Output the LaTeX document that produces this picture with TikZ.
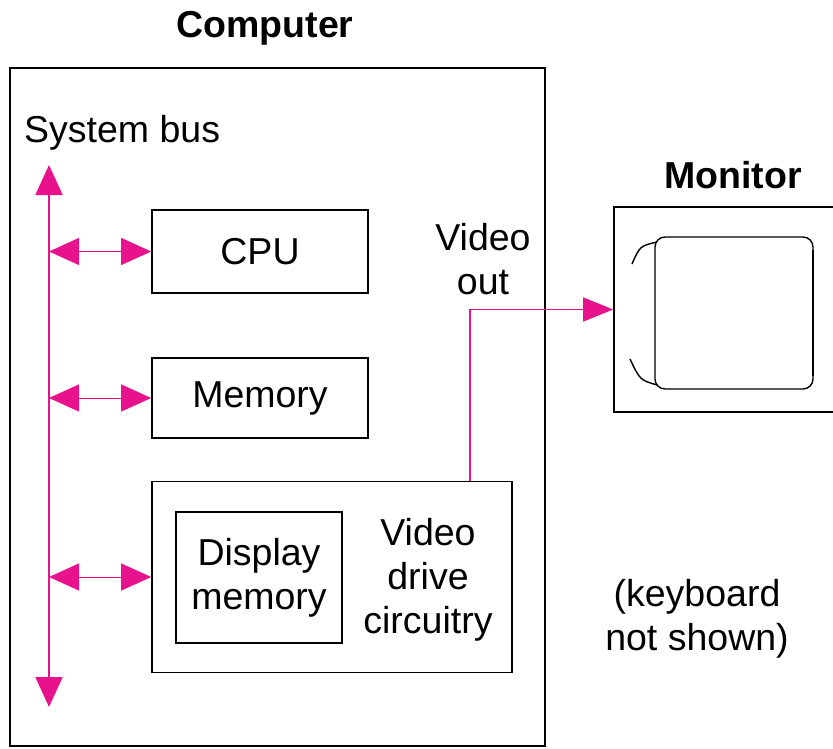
\documentclass[tikz,border=0pt]{standalone}
\usepackage{fontspec}
\setmainfont{Liberation Sans}
\usetikzlibrary{arrows.meta}
\definecolor{buspink}{RGB}{232,18,140}
\begin{document}
\begin{tikzpicture}[x=1pt,y=-1pt]
	\tikzstyle{blk}=[draw,line width=1.6pt,rectangle,inner sep=0pt,align=center];
	\tikzstyle{lbl}=[inner sep=0pt,align=center];
	\tikzstyle{busarr}=[buspink,{Triangle[length=30pt,width=27pt]}-{Triangle[length=30pt,width=27pt]}];
	\useasboundingbox (0,0) rectangle (833,749);
	\fontsize{37.5}{44}\selectfont
	% computer case
	\draw[line width=2.4pt] (10,68) rectangle (545,746);
	\node[lbl] (comp) at (265,28) {\bfseries Computer};
	\node[lbl,anchor=west] (sysbus) at (24,133) {System bus};
	\node[blk,minimum width=216pt,minimum height=83pt] (cpu) at (260,251.5) {CPU};
	\node[blk,minimum width=216pt,minimum height=80pt] (mem) at (260,398) {Memory};
	\node[blk,minimum width=360pt,minimum height=191pt] (vid) at (332,577) {};
	\node[blk,minimum width=166pt,minimum height=131pt] (dmem) at (259,577.5) {Display\\memory};
	\node[lbl] (vdrv) at (428,580) {Video\\drive\\circuitry};
	\node[lbl] (vlab) at (483,259) {Video\\out};
	% bus
	\coordinate (bustop) at (49,165);
	\coordinate (busbot) at (49,707);
	\draw[busarr,line width=2pt] (bustop) -- (busbot);
	\draw[busarr,line width=1pt] (cpu.west -| bustop) -- (cpu.west);
	\draw[busarr,line width=1pt] (mem.west -| bustop) -- (mem.west);
	\draw[busarr,line width=1pt] (vid.west -| bustop) -- (vid.west);
	% monitor
	\node[draw,line width=1.6pt,minimum width=232pt,minimum height=205pt,inner sep=0pt] (mon) at (730,309.5) {};
	\node[lbl] (monlab) at (733,175) {\bfseries Monitor};
	\coordinate (vout) at (470,481);
	\draw[buspink,line width=1.2pt,-{Triangle[length=30pt,width=24pt]}] (vout) |- (mon.west);
	\draw[line width=1.4pt,rounded corners=10pt] (655,237) rectangle (813,389);
	\draw[line width=2.4pt] (813,250) -- (813,376);
	\draw[line width=1.4pt] (657,242) .. controls (640,246) .. (632,264);
	\draw[line width=1.4pt] (657,385) .. controls (640,380) .. (630,359);
	\node[lbl] (kbd) at (697,619) {(keyboard\\not shown)};
\end{tikzpicture}
\end{document}
